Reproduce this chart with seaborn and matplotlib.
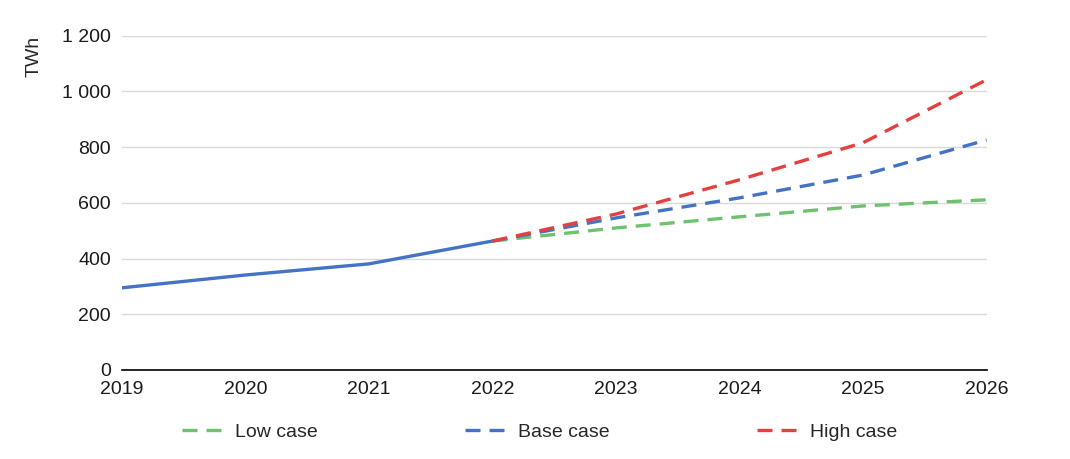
import numpy as np
import pandas as pd
import matplotlib
matplotlib.use("Agg")
import matplotlib.pyplot as plt
import seaborn as sns
from matplotlib.ticker import FuncFormatter

# Historical and projected values (TWh)
hist_years = [2019, 2020, 2021, 2022]
hist_values = [295, 341, 381, 463]

proj_years = [2022, 2023, 2024, 2025, 2026]
low_case = [463, 510, 550, 589, 611]
base_case = [463, 546, 618, 700, 826]
high_case = [463, 560, 683, 816, 1042]

case_names = ["Low case", "Base case", "High case"]
case_colors = ["#6FC16F", "#4472C4", "#E3403F"]

sns.set_theme(style="white")
plt.rcParams["font.family"] = ["Liberation Sans", "DejaVu Sans"]

fig, ax = plt.subplots(figsize=(10.7, 4.59), dpi=100)
fig.subplots_adjust(left=0.114, right=0.922, top=0.922, bottom=0.194)

sns.lineplot(x=hist_years, y=hist_values, ax=ax, color="#4472C4", linewidth=2.4)

handles = []
for name, vals, col in zip(case_names, [low_case, base_case, high_case], case_colors):
    sns.lineplot(x=proj_years, y=vals, ax=ax, color=col, linewidth=2.4)
    line = ax.lines[-1]
    line.set_dashes((4.5, 2.7))
    handles.append(line)

if ax.get_legend() is not None:
    ax.get_legend().remove()

ax.set_xlim(2019, 2026)
ax.set_ylim(0, 1200)
ax.set_yticks(np.arange(0, 1201, 200))
ax.set_xticks(range(2019, 2027))
ax.yaxis.set_major_formatter(FuncFormatter(lambda v, p: f"{int(v):,}".replace(",", " ")))
ax.tick_params(axis="both", labelsize=14, colors="#1a1a1a")
ax.tick_params(axis="x", direction="out", length=5, width=1, color="black", pad=3)
ax.tick_params(axis="y", length=0, pad=8)
ax.grid(axis="y", color="#d9d9d9", linewidth=1)
ax.set_axisbelow(True)
for s in ["left", "right", "top"]:
    ax.spines[s].set_visible(False)
ax.spines["bottom"].set_color("black")
ax.spines["bottom"].set_linewidth(1.2)

ax.set_ylabel("TWh", fontsize=14)
ax.yaxis.set_label_coords(-0.092, 0.937)

fig.legend(handles=handles, labels=case_names, loc="center left", ncol=3,
           bbox_to_anchor=(0.154, 0.058), frameon=False, fontsize=14,
           handlelength=2.3, columnspacing=7.6, handletextpad=0.4)

fig.savefig("out.png", dpi=100)
